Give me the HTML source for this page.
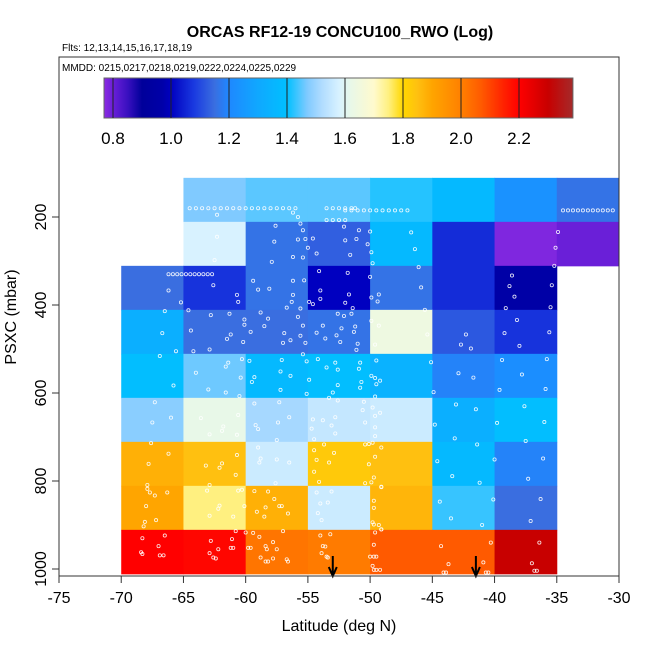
<!DOCTYPE html>
<html><head><meta charset="utf-8"><style>
html,body{margin:0;padding:0;background:#fff;}
svg{display:block;font-family:"Liberation Sans",Arial,sans-serif;}
</style></head><body>
<svg id="chart" width="650" height="650" viewBox="0 0 650 650" xmlns="http://www.w3.org/2000/svg">
<rect width="650" height="650" fill="#fff"/>
<text x="340" y="37" text-anchor="middle" font-size="16" font-weight="bold">ORCAS RF12-19 CONCU100_RWO (Log)</text>
<text x="62" y="51" font-size="10">Flts: 12,13,14,15,16,17,18,19</text>
<g id="cells"></g>
<g id="dots"></g>
<g id="arrows"></g>
<rect x="59" y="57" width="560" height="519" fill="none" stroke="#333" stroke-width="1"/>
<text x="62" y="71" font-size="10">MMDD: 0215,0217,0218,0219,0222,0224,0225,0229</text>
<g id="cbar"></g>
<g id="xaxis"></g>
<g id="yaxis"></g>
<text x="339" y="631" text-anchor="middle" font-size="16">Latitude (deg N)</text>
<text transform="translate(16,317) rotate(-90)" text-anchor="middle" font-size="16">PSXC (mbar)</text>
</svg>
<script>
const latEdges = [-70,-65,-60,-55,-50,-45,-40,-35,-30];
const pEdges = [111,211,311,411,511,611,711,811,911,1011];
const row0 = [null,1.47,1.45,1.45,1.42,1.37,1.23,1.16];
const row1 = [null,1.58,1.16,1.13,1.37,1.06,0.78,0.80];
const row2 = [1.15,1.07,1.16,1.00,1.16,1.06,0.96,null];
const row3 = [1.33,1.15,1.15,1.16,1.64,1.12,1.07,null];
const row4 = [1.39,1.46,1.37,1.39,1.34,1.19,1.22,null];
const row5 = [1.48,1.62,1.51,1.55,1.56,1.33,1.39,null];
const row6 = [1.88,1.85,1.56,1.83,1.85,1.37,1.19,null];
const row7 = [1.90,1.75,1.88,1.56,1.87,1.43,1.15,null];
const row8 = [2.20,2.19,2.02,2.01,2.07,2.07,2.30,null];
const xTicks = [-75,-70,-65,-60,-55,-50,-45,-40,-35,-30];
const yTicks = [200,400,600,800,1000];
const cbTicks = [0.8,1.0,1.2,1.4,1.6,1.8,2.0,2.2];
const cbStopVals = [0.77,0.80,0.85,0.90,0.97,1.00,1.08,1.15,1.20,1.30,1.40,1.47,1.52,1.58,1.62,1.70,1.75,1.80,1.85,1.90,2.00,2.07,2.15,2.20,2.30,2.39];
const cbStopCols = ["#8a2be2","#6a1fd8","#3a10c0","#00009a","#0000a8","#0000c0","#1a3ae0","#3a6ee0","#1e88ff","#10a8ff","#00c0ff","#80caff","#b0dcff","#d8f2ff","#e8f8e8","#fffacd","#fff080","#ffd700","#ffc010","#ffa500","#ff8000","#ff5a00","#ff2000","#ff0000","#c80000","#a52a2a"];
const arrowLats = [-53,-41.5];
const ptLat = [-64.5,-64,-63.5,-63,-62.5,-62,-61.5,-61,-60.5,-60,-59.5,-59,-58.5,-58,-57.5,-57,-56.5,-56,-53.5,-53,-52.5,-52,-51.5,-51.2,-52,-51.5,-51,-50.5,-50,-49.5,-49,-48.5,-48,-47.5,-47,-53.5,-53,-52.5,-52,-34.5,-34.1,-33.7,-33.3,-32.9,-32.5,-32.1,-31.7,-31.3,-30.9,-30.5,-66.2,-65.85,-65.5,-65.15,-64.8,-64.45,-64.1,-63.75,-63.4,-63.05,-62.7,-56.2,-55.8,-55.6,-55.4,-55.2,-55.0,
-62.3,-62.5,-62.3,-57.6,-57.7,-57.9,-56.2,-55.4,-55.8,-54.6,-54.3,-52.1,-52.0,-51.6,-50.9,-51.1,-50.2,-50.0,-49.9,-49.8,-46.7,-46.4,-46.1,-34.9,-35.1,-35.2,
-66.2,-66.5,-65.2,-62.6,-64.6,-60.7,-60.6,-59.4,-59.0,-58.1,-56.2,-55.3,-56.2,-56.3,-56.7,-55.6,-54.9,-54.6,-54.1,-51.8,-54.0,-54.0,-51.7,-52.0,-51.4,-50.0,-49.9,-49.3,-49.4,-45.9,-45.6,-38.6,-38.8,-38.4,-39.1,-35.4,-35.5,
-66.7,-65.6,-64.4,-64.2,-62.8,-62.9,-61.3,-61.5,-61.2,-60.1,-60.1,-60.2,-59.6,-58.8,-58.5,-58.2,-56.9,-57.0,-56.4,-55.8,-55.4,-55.6,-55.2,-55.4,-53.8,-54.3,-53.6,-52.3,-52.7,-52.4,-51.2,-51.3,-51.0,-51.1,-52.6,-52.1,-51.5,-49.9,-49.3,-49.6,-45.4,-42.7,-41.9,-42.3,-38.2,-39.2,-38.0,-35.6,
-66.9,-65.8,-64.0,-63.0,-61.6,-61.4,-61.6,-60.4,-60.5,-60.3,-59.7,-59.3,-59.5,-57.1,-57.2,-56.4,-57.2,-55.1,-54.9,-55.1,-54.2,-53.5,-52.8,-52.6,-52.6,-53.0,-53.3,-50.8,-50.9,-50.7,-50.8,-49.9,-49.6,-49.2,-49.5,-49.6,-49.5,-45.1,-44.9,-42.9,-41.7,-39.4,-37.8,-39.6,-35.9,-35.8,
-67.3,-66.0,-67.5,-67.6,-63.6,-62.9,-61.8,-61.9,-60.7,-60.6,-59.3,-59.2,-59.0,-57.3,-56.5,-57.4,-57.5,-54.6,-53.8,-54.7,-53.1,-52.8,-52.8,-54.5,-52.6,-50.5,-49.8,-50.6,-49.2,-49.6,-50.4,-49.6,-49.6,-49.8,-44.8,-43.1,-41.5,-43.2,-39.8,-37.6,-36.0,-37.5,
-66.2,-67.8,-67.9,-63.2,-62.1,-61.9,-62.9,-60.7,-60.8,-59.0,-58.8,-58.9,-57.5,-56.5,-57.6,-54.5,-54.3,-53.3,-52.9,-54.5,-54.1,-53.7,-50.4,-50.1,-49.1,-49.6,-50.1,-49.7,-49.9,-50.4,-49.1,-44.6,-43.4,-41.4,-41.2,-40.0,-36.1,-37.3,
-67.9,-67.7,-67.3,-66.3,-68.0,-67.2,-68.1,-68.2,-63.1,-62.1,-62.2,-62.9,-61.0,-60.6,-60.3,-60.1,-59.3,-58.2,-57.7,-58.4,-59.1,-58.5,-57.3,-57.1,-56.6,-54.3,-53.1,-54.0,-53.4,-54.2,-53.9,-49.7,-49.7,-49.8,-49.7,-49.3,-49.1,-49.1,-44.4,-43.5,-40.1,-41.0,-36.3,-37.1,
-68.3,-66.5,-67.0,-68.4,-68.3,-66.9,-66.6,-62.8,-62.2,-62.9,-62.6,-62.4,-61.1,-61.2,-61.0,-60.8,-60.0,-59.4,-58.9,-59.8,-59.6,-58.4,-58.3,-57.8,-57.5,-58.8,-58.4,-58.2,-57.8,-56.7,-56.6,-57.0,-54.0,-53.2,-53.8,-53.6,-53.9,-53.5,-53.4,-50.0,-49.7,-49.5,-49.7,-49.6,-49.1,-49.8,-49.7,-49.5,-49.2,-44.3,-43.7,-44.1,-43.9,-40.9,-40.3,-40.7,-40.5,-36.4,-37.0,-36.8,-36.6];
const ptP = [180,180,180,180,180,180,180,180,180,180,180,180,180,180,180,180,180,180,180,180,180,180,180,180,185,185,185,185,185,185,185,185,185,185,185,207,207,207,207,185,185,185,185,185,185,185,185,185,185,185,330,330,330,330,330,330,330,330,330,330,330,190,200,215,230,250,270,
195,298,245,220,256,302,291,292,251,249,283,222,253,286,230,250,262,233,280,305,235,273,314,234,270,311,
367,414,394,355,412,377,393,345,365,363,345,344,377,393,406,408,393,398,323,327,367,386,376,395,407,336,383,376,392,360,411,333,357,381,407,355,405,
464,505,458,505,423,501,420,477,467,433,445,484,461,417,448,431,464,486,480,427,447,470,486,512,447,463,476,453,469,484,449,461,488,502,420,425,420,436,447,490,467,490,499,467,434,464,493,462,
516,583,554,592,540,531,599,565,607,523,527,564,575,525,551,561,593,528,570,602,523,542,531,547,582,599,611,531,545,575,588,561,566,572,580,608,526,530,598,555,565,525,558,593,591,523,
621,656,667,714,657,694,676,686,695,650,624,673,682,621,655,667,707,660,662,681,674,655,692,705,617,620,633,639,645,652,667,678,698,713,672,626,637,703,668,630,666,709,
738,761,809,765,770,760,809,741,786,724,749,758,751,758,805,730,752,758,736,779,802,717,717,716,724,745,762,792,803,805,813,755,789,717,804,751,749,795,
818,826,833,826,857,889,893,903,822,856,863,879,881,822,820,857,823,824,841,860,870,881,857,857,874,826,824,851,849,873,889,845,861,894,899,900,910,814,847,885,842,900,841,891,
930,924,948,962,966,969,969,936,955,964,974,976,932,952,952,914,917,918,927,952,952,948,955,939,955,974,983,983,976,978,983,914,924,921,948,949,964,972,974,972,972,972,945,917,910,993,1002,1002,1002,948,989,1008,1008,985,940,1008,1008,940,987,1004,1004];

const NS = "http://www.w3.org/2000/svg";
function xOf(lat){ return 59 + (lat + 75) * 560 / 45; }
function yOf(p){ return 217 + (p - 200) * 0.44; }
function cbX(v){ return 113 + (v - 0.8) * 290; }
function hex2rgb(h){ return [parseInt(h.slice(1,3),16),parseInt(h.slice(3,5),16),parseInt(h.slice(5,7),16)]; }
function colorOf(v){
  if (v <= cbStopVals[0]) return cbStopCols[0];
  for (let i = 1; i < cbStopVals.length; i++){
    if (v <= cbStopVals[i]){
      const t = (v - cbStopVals[i-1]) / (cbStopVals[i] - cbStopVals[i-1]);
      const a = hex2rgb(cbStopCols[i-1]), b = hex2rgb(cbStopCols[i]);
      return "rgb(" + a.map((c,k)=>Math.round(c + (b[k]-c)*t)).join(",") + ")";
    }
  }
  return cbStopCols[cbStopCols.length-1];
}
function mk(tag, attrs, parent){
  const e = document.createElementNS(NS, tag);
  for (const k in attrs) e.setAttribute(k, attrs[k]);
  parent.appendChild(e);
  return e;
}
// cells
const rows = [row0,row1,row2,row3,row4,row5,row6,row7,row8];
const gC = document.getElementById("cells");
rows.forEach((row, r) => {
  row.forEach((v, c) => {
    if (v === null) return;
    const x0 = xOf(latEdges[c]), x1 = xOf(latEdges[c+1]);
    const y0 = yOf(pEdges[r]), y1 = yOf(pEdges[r+1]);
    const e = mk("rect", {x: x0, y: y0, width: x1 - x0 + 0.5, height: y1 - y0 + 0.5, fill: colorOf(v)}, gC);
    
    
  });
});
// dots
const gD = document.getElementById("dots");
ptLat.forEach((lat, i) => {
  const e = mk("circle", {cx: xOf(lat), cy: yOf(ptP[i]), r: 1.6, fill: "none", stroke: "#fff", "stroke-width": 0.8, opacity: 0.9}, gD);
  
  
});
// arrows
const gA = document.getElementById("arrows");
arrowLats.forEach(lat => {
  const x = xOf(lat);
  const e = mk("path", {d: `M${x},556 L${x},575 M${x-4},567 L${x},576 L${x+4},567`, stroke: "#000", "stroke-width": 2, fill: "none"}, gA);
  
  
});
// colorbar
const gB = document.getElementById("cbar");
const defs = mk("defs", {}, gB);
const lg = mk("linearGradient", {id: "cbg", x1: "0", x2: "1", y1: "0", y2: "0"}, defs);
const vmin = 0.769, vmax = 2.386;
cbStopVals.forEach((v, i) => {
  mk("stop", {offset: Math.max(0, Math.min(1, (v - vmin) / (vmax - vmin))), "stop-color": cbStopCols[i]}, lg);
});
const cbr = mk("rect", {x: cbX(vmin), y: 78, width: cbX(vmax) - cbX(vmin), height: 40, fill: "url(#cbg)", stroke: "#666", "stroke-width": 1}, gB);


cbTicks.forEach(v => {
  const x = cbX(v);
  const l = mk("line", {x1: x, x2: x, y1: 78, y2: 118, stroke: "#222", "stroke-width": 1}, gB);
  
  
  const t = mk("text", {x: x, y: 144, "text-anchor": "middle", "font-size": 17}, gB);
  t.textContent = v.toFixed(1);
  
  
});
// x axis
const gX = document.getElementById("xaxis");
xTicks.forEach(v => {
  const x = xOf(v);
  const l = mk("line", {x1: x, x2: x, y1: 576, y2: 583, stroke: "#333", "stroke-width": 1}, gX);
  
  
  const t = mk("text", {x: x, y: 603, "text-anchor": "middle", "font-size": 16}, gX);
  t.textContent = String(v);
  
  
});
// y axis
const gY = document.getElementById("yaxis");
yTicks.forEach(v => {
  const y = yOf(v);
  const l = mk("line", {x1: 52, x2: 59, y1: y, y2: y, stroke: "#333", "stroke-width": 1}, gY);
  
  
  const t = mk("text", {transform: `translate(46,${y}) rotate(-90)`, "text-anchor": "middle", "font-size": 16}, gY);
  t.textContent = String(v);
  
  
});
</script>
</body></html>
